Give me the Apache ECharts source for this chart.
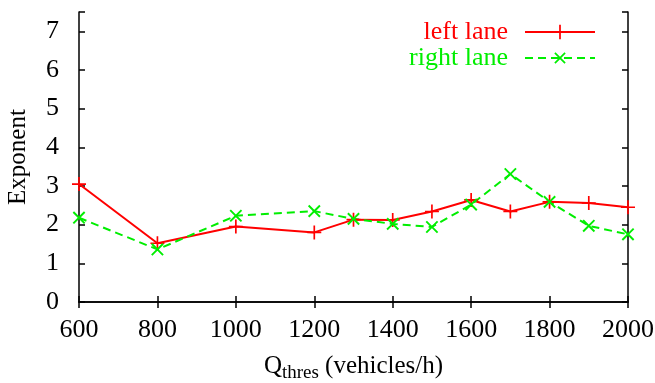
<!DOCTYPE html>
<html>
<head>
<meta charset="utf-8">
<script src="https://cdn.jsdelivr.net/npm/echarts@6/dist/echarts.min.js"></script>
<style>
  html, body { margin: 0; padding: 0; background: #fff; }
  #chart { width: 655px; height: 383px; }
</style>
</head>
<body>
<div id="chart"></div>
<script>
// Q_thres values (vehicles/h)
const qThres = [600, 800, 1000, 1200, 1300, 1400, 1500, 1600, 1700, 1800, 1900, 2000]
const leftLane = [3.05, 1.52, 1.95, 1.80, 2.13, 2.12, 2.34, 2.64, 2.34, 2.59, 2.56, 2.45]
const rightLane = [2.18, 1.36, 2.23, 2.35, 2.15, 2.02, 1.94, 2.52, 3.31, 2.59, 1.97, 1.75]

const font = 'Liberation Serif, Times New Roman, serif'
const fs = 26
const red = '#ff0000'
const green = '#00ee00'
const plus = 'path://M4.4,0h1.2v4.4h4.4v1.2h-4.4v4.4h-1.2v-4.4h-4.4v-1.2h4.4z'

const pairs = (xs, ys) => xs.map((x, i) => [x, ys[i]])

const chart = echarts.init(document.getElementById('chart'))

const axisLine = { show: true, lineStyle: { color: '#000', width: 1.5 } }
const tick = { show: true, inside: true, length: 6, lineStyle: { color: '#000', width: 1.5 } }

chart.setOption({
  animation: false,
  grid: { left: 79, right: 27, top: 12, bottom: 81, outerBoundsMode: 'none' },
  legend: [
    {
      data: ['left lane'], right: 54, top: 14, align: 'right',
      itemWidth: 70, itemHeight: 18,
      textStyle: { fontFamily: font, fontSize: fs, color: red, padding: [0, 12, 0, 0] }
    },
    {
      data: ['right lane'], right: 54, top: 40, align: 'right',
      itemWidth: 70, itemHeight: 18,
      textStyle: { fontFamily: font, fontSize: fs, color: green, padding: [0, 12, 0, 0] }
    }
  ],
  xAxis: [
    {
      type: 'value', min: 600, max: 2000, interval: 200,
      name: '{q|Q}{s|thres}{q| (vehicles/h)}',
      nameLocation: 'middle', nameGap: 48,
      nameTextStyle: {
        rich: {
          q: { fontFamily: font, fontSize: 25, color: '#000' },
          s: { fontFamily: font, fontSize: 19, color: '#000', padding: [14, 0, 0, 0] }
        }
      },
      axisLine: axisLine, axisTick: tick, splitLine: { show: false },
      axisLabel: { fontFamily: font, fontSize: fs, color: '#000', margin: 15,
        formatter: v => String(v) }
    },
    {
      type: 'value', position: 'top', min: 600, max: 2000, interval: 200,
      axisLine: axisLine, axisTick: tick, splitLine: { show: false },
      axisLabel: { show: false }
    }
  ],
  yAxis: [
    {
      type: 'value', min: 0, max: 7.5, interval: 1,
      name: 'Exponent', nameLocation: 'middle', nameGap: 48,
      nameTextStyle: { fontFamily: font, fontSize: 25, color: '#000' },
      axisLine: axisLine, axisTick: tick, splitLine: { show: false },
      axisLabel: { fontFamily: font, fontSize: fs, color: '#000', margin: 20,
        formatter: v => (v % 1 === 0 ? String(v) : '') }
    },
    {
      type: 'value', position: 'right', min: 0, max: 7.5, interval: 1,
      axisLine: axisLine, axisTick: tick, splitLine: { show: false },
      axisLabel: { show: false }
    }
  ],
  series: [
    {
      name: 'left lane', type: 'line', data: pairs(qThres, leftLane),
      symbol: plus, symbolSize: 14,
      lineStyle: { color: red, width: 2 },
      itemStyle: { color: red, borderWidth: 0 }
    },
    {
      name: 'right lane', type: 'line', data: pairs(qThres, rightLane),
      symbol: plus, symbolSize: 16, symbolRotate: 45,
      lineStyle: { color: green, width: 2, type: [8, 5] },
      itemStyle: { color: green, borderWidth: 0 }
    }
  ]
})
</script>
</body>
</html>
